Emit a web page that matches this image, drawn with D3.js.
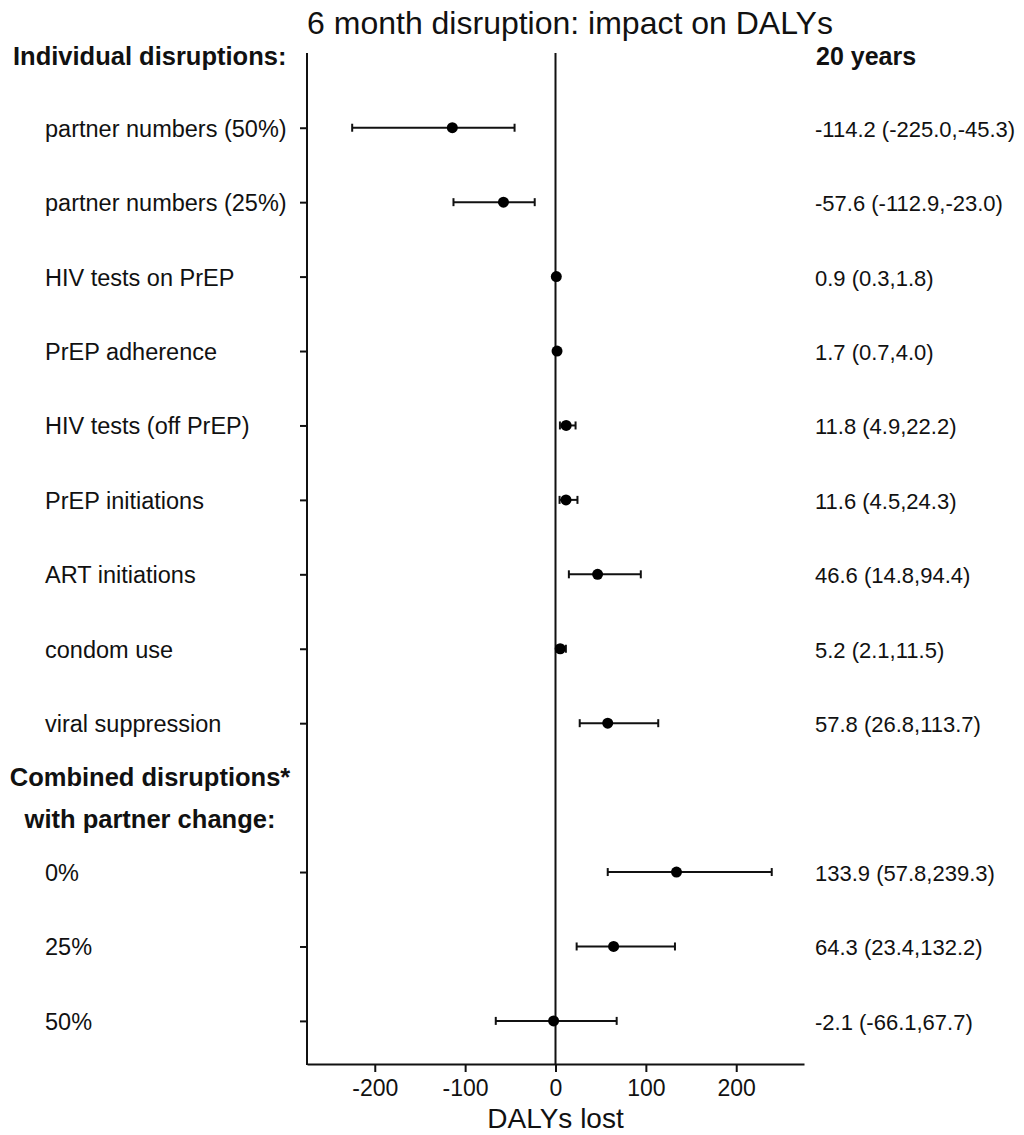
<!DOCTYPE html>
<html>
<head>
<meta charset="utf-8">
<script src="https://cdn.jsdelivr.net/npm/d3@7"></script>
<style>
  html, body { margin: 0; padding: 0; background: #fff; }
  svg { display: block; font-family: "Liberation Sans", Arial, sans-serif; }
</style>
</head>
<body>
<svg id="chart" width="1024" height="1135"></svg>
<script>
// Individual disruptions: DALYs lost over 20 years (median and interval)
const individualLabels = [
  "partner numbers (50%)",
  "partner numbers (25%)",
  "HIV tests on PrEP",
  "PrEP adherence",
  "HIV tests (off PrEP)",
  "PrEP initiations",
  "ART initiations",
  "condom use",
  "viral suppression"
];
const individualMean  = [-114.2, -57.6, 0.9, 1.7, 11.8, 11.6, 46.6, 5.2, 57.8];
const individualLower = [-225.0, -112.9, 0.3, 0.7, 4.9, 4.5, 14.8, 2.1, 26.8];
const individualUpper = [-45.3, -23.0, 1.8, 4.0, 22.2, 24.3, 94.4, 11.5, 113.7];

// Combined disruptions by partner change
const combinedLabels = ["0%", "25%", "50%"];
const combinedMean  = [133.9, 64.3, -2.1];
const combinedLower = [57.8, 23.4, -66.1];
const combinedUpper = [239.3, 132.2, 67.7];

const xTicks = [-200, -100, 0, 100, 200];
const xDomain = [-275, 275];

const titleText = "6 month disruption: impact on DALYs";
const xTitle = "DALYs lost";
const groupHeader1 = ["Individual disruptions:"];
const groupHeader2 = ["Combined disruptions*", "with partner change:"];
const columnHeader = "20 years";

// Assemble rows (header rows carry no estimate)
const rows = [];
rows.push({ key: "h1", header: true });
individualLabels.forEach((l, i) => rows.push({
  key: "i" + i, label: l, mean: individualMean[i], lo: individualLower[i], hi: individualUpper[i]
}));
rows.push({ key: "h2", header: true });
combinedLabels.forEach((l, i) => rows.push({
  key: "c" + i, label: l, mean: combinedMean[i], lo: combinedLower[i], hi: combinedUpper[i]
}));
const dataRows = rows.filter(r => !r.header);

// Plain hyphen for negative numbers
const locale = d3.formatLocale({ decimal: ".", thousands: ",", grouping: [3], currency: ["", ""], minus: "-" });
const f1 = locale.format(".1f");
const fInt = locale.format("d");

const svg = d3.select("#chart");
const ink = "#111";

const x = d3.scaleLinear().domain(xDomain).range([307, 804]);
const y = d3.scalePoint().domain(rows.map(r => r.key)).range([53.3, 1020.9]);
const plotTop = 53;
const plotBottom = 1064;

// Title
svg.append("text")
  .attr("x", 570).attr("y", 34)
  .attr("text-anchor", "middle")
  .attr("font-size", 32)
  .attr("fill", ink)
  .text(titleText);

// Bottom axis
const xAxis = svg.append("g")
  .attr("transform", `translate(0,${plotBottom})`)
  .call(d3.axisBottom(x).tickValues(xTicks).tickSize(8).tickSizeOuter(0).tickPadding(8)
        .tickFormat(fInt));
xAxis.select(".domain").attr("stroke", ink).attr("stroke-width", 2);
xAxis.selectAll(".tick line").attr("stroke", ink).attr("stroke-width", 2);
xAxis.selectAll(".tick text")
  .attr("font-size", 23).attr("fill", ink)
  .attr("font-family", "Liberation Sans, Arial, sans-serif");

svg.append("text")
  .attr("x", x(0)).attr("y", 1128)
  .attr("text-anchor", "middle")
  .attr("font-size", 28)
  .attr("fill", ink)
  .text(xTitle);

// Left axis with a tick at each estimate row
const yAxis = svg.append("g")
  .attr("transform", `translate(${x.range()[0]},0)`)
  .call(d3.axisLeft(y).tickValues(dataRows.map(r => r.key)).tickSize(7).tickFormat(""));
yAxis.select(".domain").remove();
yAxis.selectAll(".tick line").attr("stroke", ink).attr("stroke-width", 2);
svg.append("line")
  .attr("x1", x.range()[0]).attr("x2", x.range()[0])
  .attr("y1", plotTop).attr("y2", plotBottom + 1)
  .attr("stroke", ink).attr("stroke-width", 2);

// Zero reference line
svg.append("line")
  .attr("x1", x(0)).attr("x2", x(0))
  .attr("y1", plotTop).attr("y2", plotBottom)
  .attr("stroke", ink).attr("stroke-width", 2);

// Row labels
svg.append("g").selectAll("text")
  .data(dataRows).join("text")
  .attr("x", 45).attr("y", d => y(d.key) + 9)
  .attr("font-size", 23.5)
  .attr("fill", ink)
  .text(d => d.label);

// Group headers
svg.append("text")
  .attr("x", 13).attr("y", y("h1") + 12)
  .attr("font-size", 25.5).attr("font-weight", "bold").attr("fill", ink)
  .text(groupHeader1[0]);
const h2y = y("h2");
svg.append("g").selectAll("text")
  .data(groupHeader2).join("text")
  .attr("x", 150)
  .attr("y", (d, i) => h2y - 12 + i * 42)
  .attr("text-anchor", "middle")
  .attr("font-size", 25.5).attr("font-weight", "bold").attr("fill", ink)
  .text(d => d);

// Right column
svg.append("text")
  .attr("x", 816).attr("y", y("h1") + 12)
  .attr("font-size", 25).attr("font-weight", "bold").attr("fill", ink)
  .text(columnHeader);
svg.append("g").selectAll("text")
  .data(dataRows).join("text")
  .attr("x", 815).attr("y", d => y(d.key) + 9)
  .attr("font-size", 22)
  .attr("fill", ink)
  .text(d => `${f1(d.mean)} (${f1(d.lo)},${f1(d.hi)})`);

// Interval whiskers with end caps
const est = svg.append("g");
est.selectAll("line.ci")
  .data(dataRows).join("line")
  .attr("class", "ci")
  .attr("x1", d => x(d.lo)).attr("x2", d => x(d.hi))
  .attr("y1", d => y(d.key)).attr("y2", d => y(d.key))
  .attr("stroke", ink).attr("stroke-width", 2);
["lo", "hi"].forEach(side => {
  est.selectAll("line.cap-" + side)
    .data(dataRows).join("line")
    .attr("class", "cap-" + side)
    .attr("x1", d => x(d[side])).attr("x2", d => x(d[side]))
    .attr("y1", d => y(d.key) - 4).attr("y2", d => y(d.key) + 4)
    .attr("stroke", ink).attr("stroke-width", 2);
});
est.selectAll("circle")
  .data(dataRows).join("circle")
  .attr("cx", d => x(d.mean)).attr("cy", d => y(d.key))
  .attr("r", 5.5)
  .attr("fill", "#000");
</script>
</body>
</html>
